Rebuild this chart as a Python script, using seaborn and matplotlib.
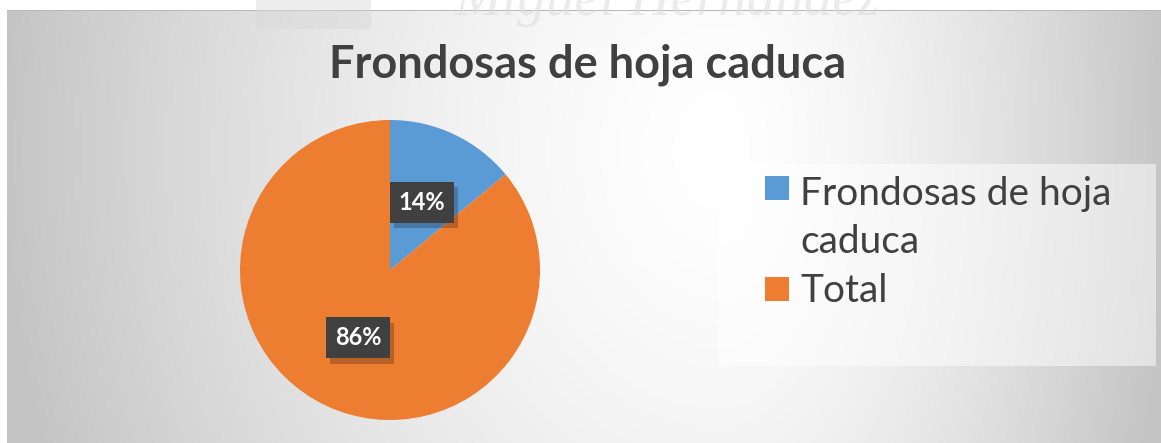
import numpy as np
import seaborn as sns
import matplotlib.pyplot as plt
import matplotlib.patheffects as pe
from matplotlib.patches import Rectangle

# data
categories = ["Frondosas de hoja caduca", "Total"]
shares = [14, 86]
legend_lines = ["Frondosas de hoja\ncaduca", "Total"]
title = "Frondosas de hoja caduca"

sns.set_theme(style="white")
plt.rcParams["font.family"] = ["Lato", "DejaVu Sans"]
colors = sns.color_palette(["#5B9BD5", "#ED7D31"])

W, H = 1161, 443
fig = plt.figure(figsize=(W / 100, H / 100), dpi=100)
fig.patch.set_facecolor("white")

def fx(px):
    return px / W

def fy(py):
    return 1 - py / H

# chart area with the soft radial-ish background
bg = fig.add_axes([fx(7), 0, fx(W - 7), fy(10)])
gx, gy = np.meshgrid(np.arange(7, W), np.arange(10, H))
dx = gx - 720.0
dx = np.where(dx < 0, dx / 720.0, dx / 450.0)
dy = (gy - 150.0) / 900.0
r = np.clip(np.sqrt(dx ** 2 + dy ** 2), 0, 1)
shade = 1 - 0.23 * r ** 1.5
bg.imshow(np.dstack([shade] * 3), aspect="auto", interpolation="bilinear")
bg.set_axis_off()

# thin shadow line on top of chart area
fig.add_artist(Rectangle((fx(7), fy(11)), fx(W), 1.5 / H, transform=fig.transFigure,
                         color="#b8b8b8", lw=0, zorder=5))

# faint watermark (clipped at the top, as in the source image)
fig.add_artist(Rectangle((fx(256), fy(29)), fx(115), 29 / H, transform=fig.transFigure,
                         color="#d8d8d8", alpha=0.45, lw=0, zorder=6))
fig.text(fx(455), fy(15), "Miguel Hernández", family=["Liberation Serif", "DejaVu Serif"],
         style="italic", fontsize=41, color="#dcdcdc", alpha=0.55, va="baseline", zorder=6)

# title
fig.text(fx(588), fy(78), title, ha="center", va="baseline", fontsize=32.5,
         fontweight="bold", color="#404040", zorder=7)

# pie
ax = fig.add_axes([fx(240), fy(420), fx(300), 300 / H])
wedges, texts, autotexts = ax.pie(
    shares, colors=colors, startangle=90, counterclock=False,
    autopct="%1.0f%%", pctdistance=0.5, radius=1,
    wedgeprops=dict(linewidth=0),
    textprops=dict(color="white", fontsize=17, fontweight="bold"),
)
ax.set_xlim(-1, 1)
ax.set_ylim(-1, 1)
ax.set_axis_off()

for t in autotexts:
    t.set_bbox(dict(boxstyle="square,pad=0.38", facecolor="#404040", linewidth=0))
    t.get_bbox_patch().set_path_effects([
        pe.SimplePatchShadow(offset=(3, -4), shadow_rgbFace="black", alpha=0.22),
        pe.Normal(),
    ])
    t.set_zorder(4)

# legend panel
fig.add_artist(Rectangle((fx(718), fy(366)), fx(438), 202 / H, transform=fig.transFigure,
                         facecolor="white", alpha=0.5, lw=0, zorder=2))
row_top = [176, 277]
last_baseline = [253, 302]
for label, color, top, base in zip(legend_lines, colors, row_top, last_baseline):
    fig.add_artist(Rectangle((fx(765), fy(top + 24)), fx(24), 24 / H,
                             transform=fig.transFigure, facecolor=color, lw=0, zorder=3))
    fig.text(fx(800), fy(base), label, fontsize=28, color="#404040",
             va="baseline", linespacing=1.42, zorder=3)

fig.savefig("out.png", dpi=100)
